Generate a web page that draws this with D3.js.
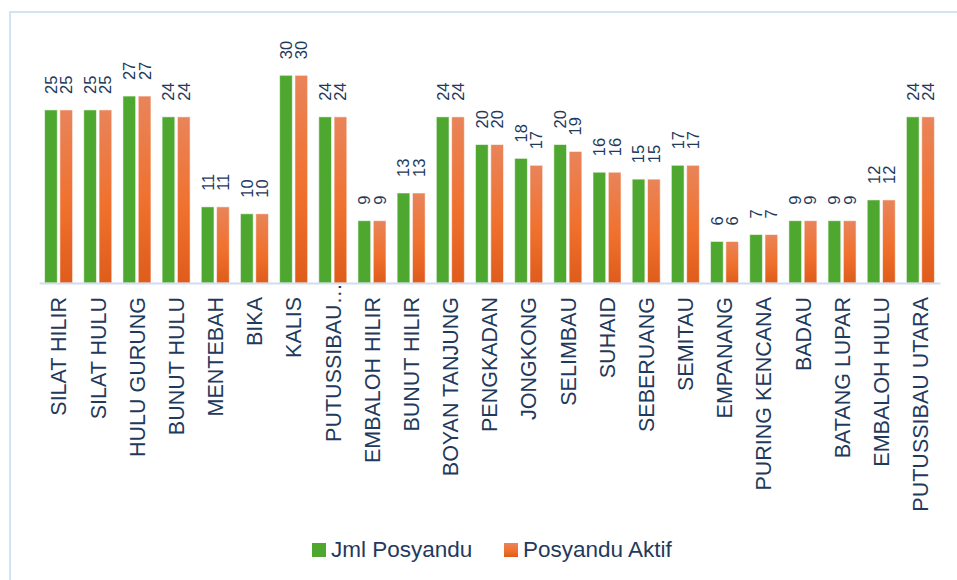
<!DOCTYPE html>
<html>
<head>
<meta charset="utf-8">
<script src="https://cdn.jsdelivr.net/npm/d3@7"></script>
<style>
  html, body { margin: 0; padding: 0; background: #fff; }
  svg text { font-family: "Liberation Sans", Arial, sans-serif; fill: #1f3a5c; }
</style>
</head>
<body>
<svg id="chart" width="957" height="580"></svg>
<script>
'use strict';

// kecamatan names
var categories = [
    'SILAT HILIR', 'SILAT HULU', 'HULU GURUNG', 'BUNUT HULU', 'MENTEBAH', 'BIKA',
    'KALIS', 'PUTUSSIBAU SELATAN', 'EMBALOH HILIR', 'BUNUT HILIR', 'BOYAN TANJUNG',
    'PENGKADAN', 'JONGKONG', 'SELIMBAU', 'SUHAID', 'SEBERUANG', 'SEMITAU',
    'EMPANANG', 'PURING KENCANA', 'BADAU', 'BATANG LUPAR', 'EMBALOH HULU',
    'PUTUSSIBAU UTARA'
];
var jmlPosyandu = [25, 25, 27, 24, 11, 10, 30, 24, 9, 13, 24, 20, 18, 20, 16, 15, 17, 6, 7, 9, 9, 12, 24];
var posyanduAktif = [25, 25, 27, 24, 11, 10, 30, 24, 9, 13, 24, 20, 17, 19, 16, 15, 17, 6, 7, 9, 9, 12, 24];
var seriesNames = ['Jml Posyandu', 'Posyandu Aktif'];

var svg = d3.select('#chart');

//chart frame
svg.append('rect')
    .attr('x', 10).attr('y', 12)
    .attr('width', 960).attr('height', 590)
    .attr('fill', 'none')
    .attr('stroke', '#d3e2f4')
    .attr('stroke-width', 2);

//orange gradient used by the second series
var defs = svg.append('defs');
var grad = defs.append('linearGradient')
    .attr('id', 'orangeGrad')
    .attr('x1', 0).attr('y1', 0).attr('x2', 0).attr('y2', 1);
grad.append('stop').attr('offset', '0%').attr('stop-color', '#e9845a');
grad.append('stop').attr('offset', '55%').attr('stop-color', '#f0712e');
grad.append('stop').attr('offset', '100%').attr('stop-color', '#df5c1b');

var colors = ['#4ea72e', 'url(#orangeGrad)'];

var x0 = d3.scaleBand()
    .domain(categories)
    .range([39, 940])
    .paddingInner(0.285)
    .paddingOuter(0.1425);

var x1 = d3.scaleBand()
    .domain(seriesNames)
    .range([0, x0.bandwidth()])
    .paddingInner(0.17);

var y = d3.scaleLinear()
    .domain([0, 30])
    .range([283, 75.3]);

var rows = categories.map(function (c, i) {
    return { name: c, values: [jmlPosyandu[i], posyanduAktif[i]] };
});

var groups = svg.append('g').selectAll('g')
    .data(rows)
    .join('g')
    .attr('transform', function (d) { return 'translate(' + x0(d.name) + ',0)'; });

groups.selectAll('rect')
    .data(function (d) { return d.values.map(function (v, k) { return { key: seriesNames[k], k: k, v: v }; }); })
    .join('rect')
    .attr('x', function (d) { return x1(d.key); })
    .attr('y', function (d) { return y(d.v); })
    .attr('width', x1.bandwidth())
    .attr('height', function (d) { return y(0) - y(d.v); })
    .attr('fill', function (d) { return colors[d.k]; })
    .attr('stroke', 'rgba(255,255,255,0.55)')
    .attr('stroke-width', 1);

//value labels, rotated
groups.selectAll('text')
    .data(function (d) { return d.values.map(function (v, k) { return { key: seriesNames[k], v: v }; }); })
    .join('text')
    .attr('transform', function (d) {
        return 'translate(' + (x1(d.key) + x1.bandwidth() / 2) + ',' + (y(d.v) - 16) + ') rotate(-90)';
    })
    .attr('dy', '0.36em')
    .attr('text-anchor', 'start')
    .style('font-size', '16.5px')
    .text(function (d) { return d.v; });

//x axis
var xAxis = d3.axisBottom(x0)
    .tickSize(0)
    .tickFormat(function (d) {
        return d.length > 16 ? d.split(' ')[0] + '\u2026' : d;
    });

var gx = svg.append('g')
    .attr('transform', 'translate(0,' + y(0) + ')')
    .call(xAxis);

gx.select('.domain')
    .attr('stroke', '#d0ddef')
    .attr('stroke-width', 2);

gx.selectAll('.tick text')
    .attr('fill', '#1f3a5c')
    .style('font-size', '21.5px')
    .attr('text-anchor', 'end')
    .attr('y', 0)
    .attr('dy', '0.36em')
    .attr('transform', function (d) {
        var top = d.length > 16 ? 0 : 14;
        return 'translate(0,' + top + ') rotate(-90)';
    });

//legend
var legend = svg.append('g');
var legendX = [312, 504];
seriesNames.forEach(function (name, k) {
    var g = legend.append('g').attr('transform', 'translate(' + legendX[k] + ',543)');
    g.append('rect')
        .attr('width', 14).attr('height', 14)
        .attr('fill', colors[k]);
    g.append('text')
        .attr('x', 19).attr('y', 13.5)
        .style('font-size', '22.5px')
        .text(name);
});
</script>
</body>
</html>
